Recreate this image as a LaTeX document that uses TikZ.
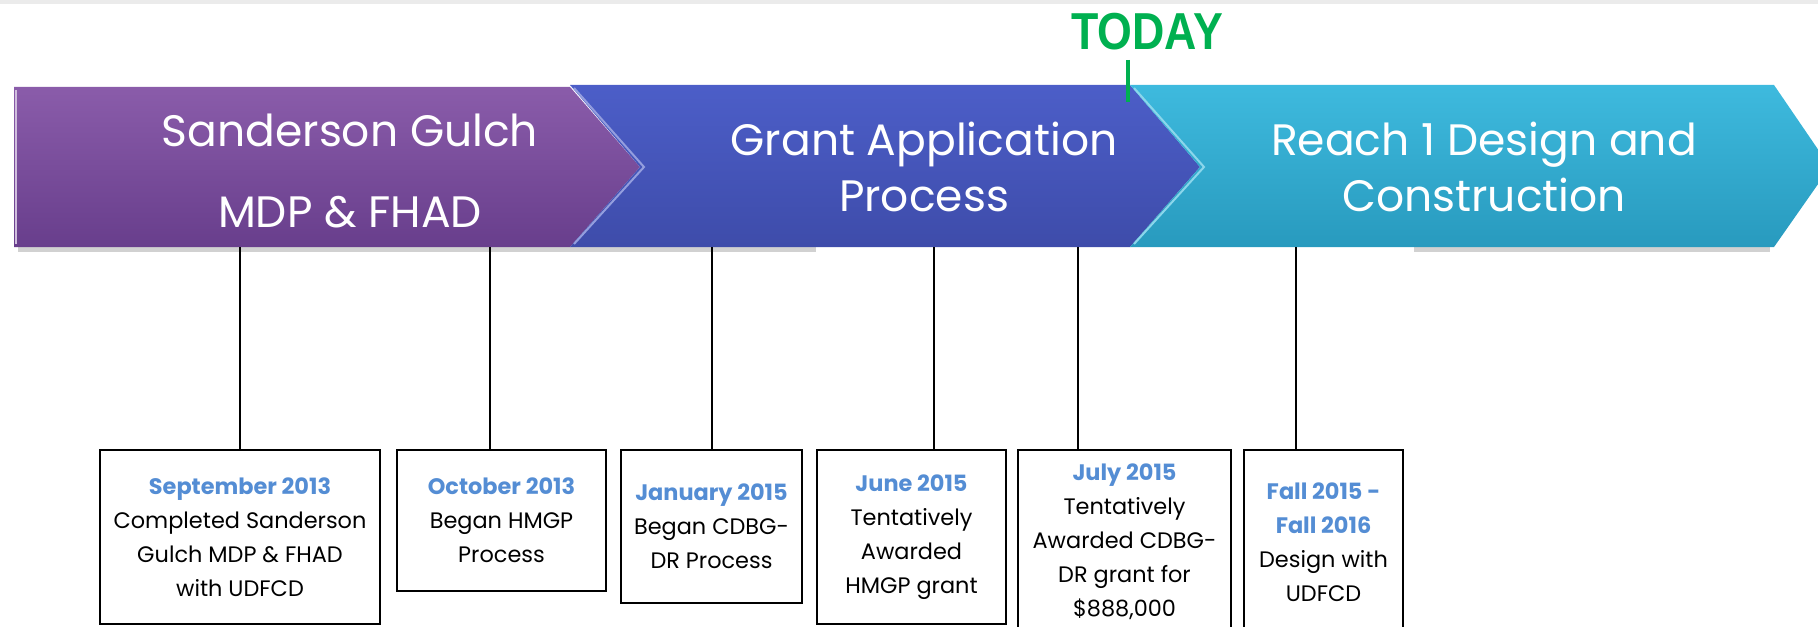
\documentclass[tikz,border=0pt]{standalone}
\usepackage{fontspec}
\setmainfont{Poppins}
\newfontfamily\todayfont{Liberation Sans}
\usetikzlibrary{positioning}
\definecolor{datblue}{RGB}{84,141,212}
\definecolor{todaygreen}{RGB}{0,176,80}
\definecolor{purpletop}{RGB}{138,92,170}
\definecolor{purplebot}{RGB}{104,62,140}
\definecolor{bluetop}{RGB}{76,94,200}
\definecolor{bluebot}{RGB}{62,76,170}
\definecolor{cyantop}{RGB}{62,186,222}
\definecolor{cyanbot}{RGB}{40,154,190}
\tikzstyle{evbox} = [draw=black, line width=1.4pt, fill=white, align=center, inner sep=0pt, font=\fontsize{11.2}{17}\selectfont]
\tikzstyle{stem} = [line width=0.9pt]
\tikzset{phase text/.style={text=white, align=center, font=\fontsize{22}{28}\selectfont}}
\newcommand{\evdate}[1]{{\bfseries\color{datblue}#1}\\}

\begin{document}
\begin{tikzpicture}[x=0.5pt,y=-0.5pt]
\useasboundingbox (0,0) rectangle (1818,626);
\fill[black!8] (0,0) rectangle (1818,4);

% shadow under the chevrons
\fill[black!18] (18,247) rectangle (816,252);
\fill[black!18] (1414,247) rectangle (1770,252);

% phase chevrons
\shade[top color=purpletop, bottom color=purplebot] (14,87) -- (570,87) -- (640,167) -- (570,247) -- (14,247) -- cycle;
\shade[top color=bluetop, bottom color=bluebot] (570,85) -- (1130,85) -- (1200,167) -- (1130,247) -- (570,247) -- (640,167) -- cycle;
\shade[top color=cyantop, bottom color=cyanbot] (1130,85) -- (1774,85) -- (1830,167) -- (1774,247) -- (1130,247) -- (1200,167) -- cycle;
\draw[white!60!purpletop, line width=1pt] (16,90) -- (16,244);
\draw[white!40!bluetop, line width=1pt] (574,88) -- (644,167) -- (574,244);
\draw[white!40!cyantop, line width=1pt] (1134,88) -- (1204,167) -- (1134,244);

\node[phase text, font=\fontsize{22}{40.5}\selectfont] (mdp) at (350,171) {Sanderson Gulch\\MDP \& FHAD};
\node[phase text] (grant) at (924,167) {Grant Application\\Process};
\node[phase text] (reach) at (1484,167) {Reach 1 Design and\\Construction};

% today marker
\node[text=todaygreen, font=\todayfont\bfseries\fontsize{26}{28}\selectfont] (today) at (1147,32) {\scalebox{0.86}[1]{TODAY}};
\coordinate (tickTop) at (1128,60);
\coordinate (tickBot) at (1128,102);
\draw[todaygreen, line width=2pt] (tickTop) -- (tickBot);

% events
\node[evbox, minimum width=140pt, minimum height=87pt] (sep13) at (240,537) {\evdate{September 2013}Completed Sanderson\\Gulch MDP \& FHAD\\with UDFCD};
\node[evbox, minimum width=104.5pt, minimum height=70.5pt] (oct13) at (501.5,520.5) {\evdate{October 2013}Began HMGP\\Process};
\node[evbox, minimum width=90.5pt, minimum height=76.5pt] (jan15) at (711.5,526.5) {\evdate{January 2015}Began CDBG-\\DR Process};
\node[evbox, minimum width=94.5pt, minimum height=87pt] (jun15) at (911.5,537) {\evdate{June 2015}Tentatively\\Awarded\\HMGP grant};
\node[evbox, minimum width=106.5pt, minimum height=92pt] (jul15) at (1124.5,542) {\evdate{July 2015}Tentatively\\Awarded CDBG-\\DR grant for\\\$888,000};
\node[evbox, minimum width=79.5pt, minimum height=92pt] (fall15) at (1323.5,542) {\evdate{Fall 2015 -}\evdate{Fall 2016}Design with\\UDFCD};

\coordinate (t1) at (240,247);
\coordinate (t2) at (490,247);
\coordinate (t3) at (712,247);
\coordinate (t4) at (934,247);
\coordinate (t5) at (1078,247);
\coordinate (t6) at (1296,247);
\draw[stem] (t1) -- (t1 |- sep13.north);
\draw[stem] (t2) -- (t2 |- oct13.north);
\draw[stem] (t3) -- (t3 |- jan15.north);
\draw[stem] (t4) -- (t4 |- jun15.north);
\draw[stem] (t5) -- (t5 |- jul15.north);
\draw[stem] (t6) -- (t6 |- fall15.north);
\end{tikzpicture}
\end{document}
